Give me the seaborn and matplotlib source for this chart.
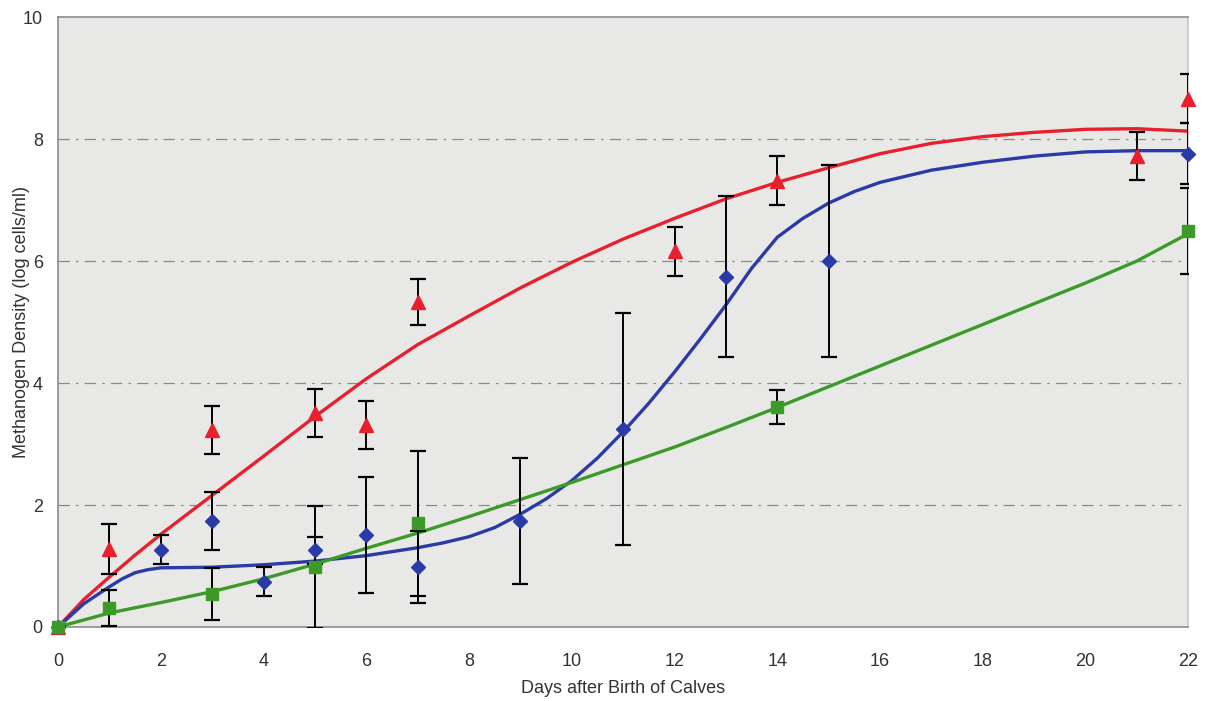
import numpy as np
import pandas as pd
import matplotlib
matplotlib.use("Agg")
import matplotlib.pyplot as plt
import seaborn as sns

# measured points (mean, error) per group
red_days = [0, 1, 3, 5, 6, 7, 12, 14, 21, 22]
red_vals = [0.0, 1.28, 3.23, 3.51, 3.31, 5.33, 6.16, 7.32, 7.72, 8.66]
red_err = [0.0, 0.41, 0.40, 0.40, 0.39, 0.38, 0.40, 0.40, 0.39, 0.40]

blue_days = [0, 2, 3, 4, 5, 6, 7, 9, 11, 13, 15, 22]
blue_vals = [0.0, 1.27, 1.74, 0.74, 1.26, 1.51, 0.98, 1.74, 3.25, 5.74, 6.0, 7.76]
blue_err = [0.0, 0.24, 0.48, 0.24, 0.22, 0.95, 0.59, 1.03, 1.90, 1.32, 1.58, 0.50]

green_days = [0, 1, 3, 5, 7, 14, 22]
green_vals = [0.0, 0.31, 0.54, 0.99, 1.70, 3.60, 6.49]
green_err = [0.0, 0.30, 0.43, 1.00, 1.19, 0.28, 0.70]

# fitted trend curves
red_curve_days = [0, 0.5, 1, 1.5, 2, 3, 4, 5, 6, 7, 8, 9, 10, 11, 12, 13, 14, 15, 16, 17, 18, 19, 20, 21, 22]
red_curve = [0.0, 0.45, 0.82, 1.18, 1.52, 2.16, 2.80, 3.45, 4.07, 4.63, 5.10, 5.56, 5.98, 6.36, 6.70, 7.02, 7.29, 7.53, 7.76, 7.93, 8.04, 8.11, 8.16, 8.17, 8.13]

blue_curve_days = [0, 0.5, 1, 1.25, 1.5, 1.75, 2, 3, 4, 5, 6, 7, 7.5, 8, 8.5, 9, 9.5, 10, 10.5, 11, 11.5, 12, 12.5,
                   13, 13.5, 14, 14.5, 15, 15.5, 16, 17, 18, 19, 20, 21, 22]
blue_curve = [0.0, 0.38, 0.66, 0.79, 0.89, 0.94, 0.97, 0.98, 1.02, 1.08, 1.17, 1.30, 1.38, 1.48, 1.63, 1.85, 2.10, 2.40,
              2.77, 3.20, 3.67, 4.18, 4.72, 5.28, 5.88, 6.39, 6.70, 6.95, 7.14, 7.29, 7.49, 7.62, 7.72, 7.79, 7.81, 7.81]

green_curve_days = [0, 1, 2, 3, 4, 5, 6, 7, 8, 9, 10, 11, 12, 13, 14, 15, 16, 17, 18, 19, 20, 21, 22]
green_curve = [0.0, 0.23, 0.40, 0.58, 0.79, 1.03, 1.29, 1.54, 1.81, 2.09, 2.37, 2.66, 2.95, 3.27, 3.60, 3.94, 4.28, 4.62, 4.96, 5.30, 5.64, 6.00, 6.45]

RED = "#e8202e"
BLUE = "#2a3aa6"
GREEN = "#3c9a28"

sns.set_style("white")
plt.rcParams["font.family"] = ["Liberation Sans", "DejaVu Sans"]

fig = plt.figure(figsize=(12.1, 7.01), dpi=100)
ax = fig.add_axes([0.048, 0.1056, 0.934, 0.870])
ax.set_facecolor("#e8e9e7")

for y in [2, 4, 6, 8]:
    ax.axhline(y, color="#8a8a8a", lw=0.9, linestyle=(0, (9, 5, 2, 5)), zorder=1)

curves = pd.concat([
    pd.DataFrame({"day": red_curve_days, "val": red_curve, "grp": "red"}),
    pd.DataFrame({"day": blue_curve_days, "val": blue_curve, "grp": "blue"}),
    pd.DataFrame({"day": green_curve_days, "val": green_curve, "grp": "green"}),
])
sns.lineplot(data=curves, x="day", y="val", hue="grp",
             palette={"red": RED, "blue": BLUE, "green": GREEN},
             lw=2.4, legend=False, ax=ax, zorder=3)

groups = [
    (red_days, red_vals, red_err, RED, "^", 10),
    (blue_days, blue_vals, blue_err, BLUE, "D", 7.5),
    (green_days, green_vals, green_err, GREEN, "s", 8),
]
for days, vals, err, col, mk, ms in groups:
    ax.errorbar(days, vals, yerr=err, fmt="none", ecolor="black",
                elinewidth=1.4, capsize=6, capthick=1.6, zorder=4)
    ax.plot(days, vals, linestyle="none", marker=mk, markersize=ms,
            color=col, markeredgecolor=col, zorder=5, clip_on=False)

ax.set_xlim(0, 22)
ax.set_ylim(0, 10)
ax.set_xticks(range(0, 23, 2))
ax.set_yticks(range(0, 11, 2))
ax.tick_params(axis="both", labelsize=13, colors="#333333")
ax.tick_params(axis="x", length=4, width=1, direction="out", pad=15, color="#8c8c8c")
ax.tick_params(axis="y", length=0, pad=11)
for s in ax.spines.values():
    s.set_color("#8c8c8c")
    s.set_linewidth(1.2)
ax.spines["right"].set_color("#c8c8c8")

ax.set_xlabel("Days after Birth of Calves", fontsize=13, color="#333333", labelpad=7)
ax.set_ylabel("Methanogen Density (log cells/ml)", fontsize=13, color="#333333", labelpad=-5)

fig.savefig("out.png", dpi=100, facecolor="white")
